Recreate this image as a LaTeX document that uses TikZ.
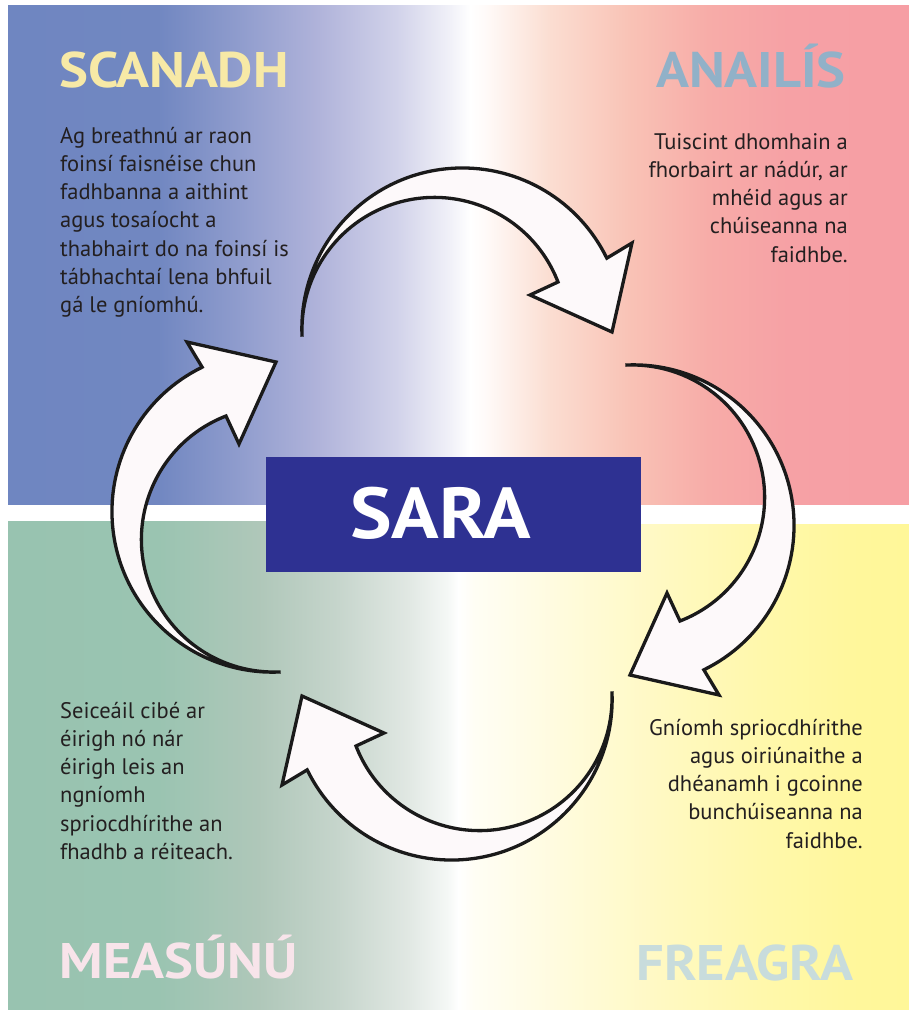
\documentclass[tikz,border=0pt]{standalone}
\usepackage{fontspec}
\setmainfont{PT Sans}
\definecolor{tA}{RGB}{111,134,193}
\definecolor{tB}{RGB}{113,135,193}
\definecolor{tC}{RGB}{143,156,205}
\definecolor{tD}{RGB}{176,179,218}
\definecolor{tE}{RGB}{210,211,234}
\definecolor{tF}{RGB}{243,243,249}
\definecolor{tW}{RGB}{255,255,255}
\definecolor{tG}{RGB}{255,250,248}
\definecolor{tH}{RGB}{251,222,210}
\definecolor{tI}{RGB}{249,195,182}
\definecolor{tJ}{RGB}{247,172,168}
\definecolor{tK}{RGB}{246,161,165}
\definecolor{tL}{RGB}{246,158,164}
\definecolor{gA}{RGB}{152,195,176}
\definecolor{gB}{RGB}{154,196,177}
\definecolor{gC}{RGB}{175,199,185}
\definecolor{gD}{RGB}{198,213,204}
\definecolor{gE}{RGB}{225,232,227}
\definecolor{gF}{RGB}{245,248,246}
\definecolor{yA}{RGB}{255,254,245}
\definecolor{yB}{RGB}{255,251,222}
\definecolor{yC}{RGB}{255,249,195}
\definecolor{yD}{RGB}{255,248,172}
\definecolor{yE}{RGB}{255,247,155}
\definecolor{yF}{RGB}{255,247,153}
\definecolor{saraBlue}{RGB}{46,49,146}
\definecolor{bodyText}{RGB}{35,31,32}
\definecolor{arrowFill}{RGB}{253,249,250}
\definecolor{arrowLine}{RGB}{26,26,26}
\definecolor{tScan}{RGB}{247,233,166}
\definecolor{tAnal}{RGB}{145,177,200}
\definecolor{tMeas}{RGB}{248,228,234}
\definecolor{tFreag}{RGB}{200,220,220}
\tikzset{
  arrowbody/.style={fill=arrowFill, draw=arrowLine, line width=3.3pt, line join=miter},
  bodytxt/.style={inner sep=0pt, text=bodyText, font=\fontsize{22.5}{28.3}\selectfont},
  titletxt/.style={inner sep=0pt, font=\fontsize{50}{60}\selectfont\bfseries},
  pics/cyclearrow/.style={code={
    \draw[arrowbody] (-155,-179) arc[start angle=177.7, end angle=334, radius=160.6]
      -- (175,-271) -- (155,-182) -- (73,-219) -- (101,-232)
      arc[start angle=338.8, end angle=177.8, radius=132.5] -- cycle;
  }}
}
\begin{document}
\begin{tikzpicture}[x=1pt, y=-1pt]
\useasboundingbox (0,0) rectangle (909,1010);
% top band: blue -> white -> pink
\foreach \xa/\xb/\ca/\cb in {8/158/tA/tB, 158/238/tB/tC, 238/318/tC/tD, 318/398/tD/tE, 398/453/tE/tF, 453/470/tF/tW, 470/486/tW/tG, 486/548/tG/tH, 548/628/tH/tI, 628/708/tI/tJ, 708/788/tJ/tK, 788/909/tK/tL}
  \shade[left color=\ca, right color=\cb] (\xa,5.5) rectangle (\xb+0.6,504);
% bottom left: green -> white
\foreach \xa/\xb/\ca/\cb in {8/158/gA/gB, 158/258/gB/gC, 258/338/gC/gD, 338/408/gD/gE, 408/448/gE/gF, 448/458/gF/tW}
  \shade[left color=\ca, right color=\cb] (\xa,521) rectangle (\xb+0.6,1010);
% bottom right: white -> yellow
\foreach \xa/\xb/\ca/\cb in {458/473/tW/yA, 473/558/yA/yB, 558/658/yB/yC, 658/758/yC/yD, 758/858/yD/yE, 858/909/yE/yF}
  \shade[left color=\ca, right color=\cb] (\xa,524) rectangle (\xb+0.6,1010);

\node[titletxt, text=tScan, anchor=base] (scan) at (174,87) {\scalebox{1.09}[1]{SCANADH}};
\node[titletxt, text=tAnal, anchor=base] (anal) at (751,87) {\scalebox{1.09}[1]{ANAILÍS}};
\node[titletxt, text=tMeas, anchor=base] (meas) at (178.5,978) {\scalebox{1.09}[1]{MEASÚNÚ}};
\node[titletxt, text=tFreag, anchor=base] (freag) at (745,980) {\scalebox{1.09}[1]{FREAGRA}};

\node[bodytxt, anchor=base west] (scantext) at (60,143) {\begin{tabular}[t]{@{}l@{}}Ag breathnú ar raon\\foinsí faisnéise chun\\fadhbanna a aithint\\agus tosaíocht a\\thabhairt do na foinsí is\\tábhachtaí lena bhfuil\\gá le gníomhú.\end{tabular}};
\node[bodytxt, anchor=base east] (analtext) at (848,149) {\begin{tabular}[t]{@{}r@{}}Tuiscint dhomhain a\\fhorbairt ar nádúr, ar\\mhéid agus ar\\chúiseanna na\\faidhbe.\end{tabular}};
\node[bodytxt, anchor=base east] (freagtext) at (863,735) {\begin{tabular}[t]{@{}r@{}}Gníomh spriocdhírithe\\agus oiriúnaithe a\\dhéanamh i gcoinne\\bunchúiseanna na\\faidhbe.\end{tabular}};
\node[bodytxt, anchor=base west] (meastext) at (60,718) {\begin{tabular}[t]{@{}l@{}}Seiceáil cibé ar\\éirigh nó nár\\éirigh leis an\\ngníomh\\spriocdhírithe an\\fhadhb a réiteach.\end{tabular}};

\pic at (457,514) {cyclearrow};
\pic[rotate=-90] at (448,520) {cyclearrow};
\pic[rotate=180] at (457,514) {cyclearrow};
\pic[rotate=90] at (458,517) {cyclearrow};

\fill[saraBlue] (266,457) rectangle (641,572);
\node[inner sep=0pt, text=white, font=\fontsize{72}{80}\selectfont\bfseries, anchor=base] (sara) at (440.5,538) {\scalebox{1.09}[1]{SARA}};
\end{tikzpicture}
\end{document}
